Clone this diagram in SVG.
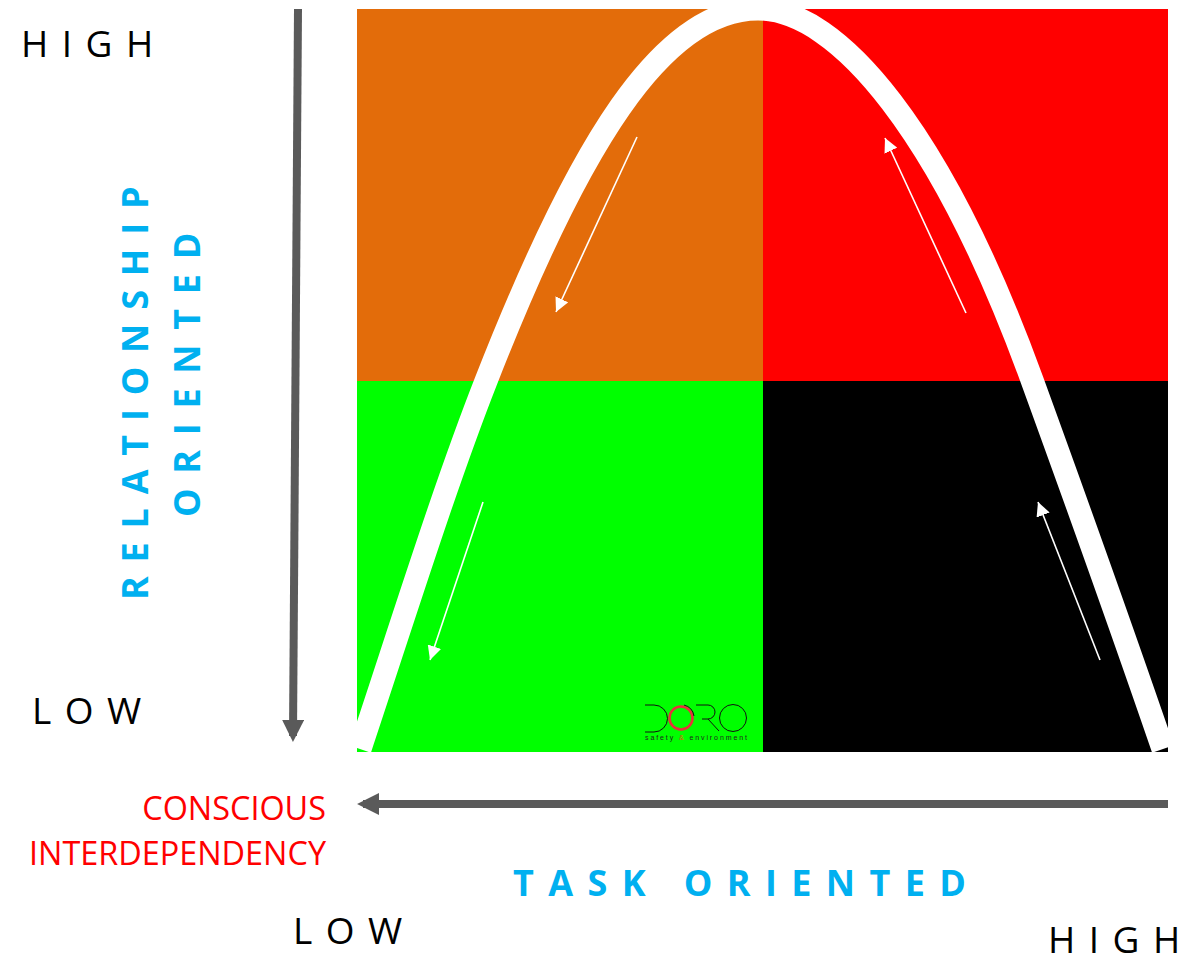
<svg xmlns="http://www.w3.org/2000/svg" width="1190" height="965" viewBox="0 0 1190 965">
<defs>
<style>
.k{font-family:"Open Sans","Liberation Sans",sans-serif;font-size:37px;fill:#000;letter-spacing:13.5px}
.b{font-family:"Open Sans","Liberation Sans",sans-serif;font-size:36px;font-weight:700;fill:#00b0f0}
.r{font-family:"Open Sans","Liberation Sans",sans-serif;font-size:32.4px;fill:#f00}
.w{fill:none;stroke:#fff;stroke-width:1.6}
.g{fill:none;stroke:#5a5a5a;stroke-width:8}
.l{fill:none;stroke:#111;stroke-width:1}
</style>
<marker id="wa" viewBox="0 0 10 10" refX="10" refY="5" markerWidth="14" markerHeight="14" markerUnits="userSpaceOnUse" orient="auto"><path d="M0 0L10 5L0 10Z" fill="#fff"/></marker>
<marker id="ga" viewBox="0 0 10 10" refX="7.3" refY="5" markerWidth="22" markerHeight="22" markerUnits="userSpaceOnUse" orient="auto"><path d="M0 0L10 5L0 10Z" fill="#5a5a5a"/></marker>
</defs>
<rect width="1190" height="965" fill="#fff"/>
<g id="quadrants">
<rect id="q-orange" x="357" y="9" width="406" height="372" fill="#e36c0a"/>
<rect id="q-red" x="763" y="9" width="405" height="372" fill="#f00"/>
<rect id="q-green" x="357" y="381" width="406" height="371" fill="#0f0"/>
<rect id="q-black" x="763" y="381" width="405" height="371" fill="#000"/>
</g>
<g id="curve"><path d="M360 749C402 623 444 488 486 381C578 146 662 9 758 9C838 9 942 132.500 1032 380C1076 501 1119 621 1163 749" fill="none" stroke="#fff" stroke-width="23"/></g>
<g id="connectors">
<path class="w" d="M637 137L556 312" marker-end="url(#wa)"/>
<path class="w" d="M483 502L430 660" marker-end="url(#wa)"/>
<path class="w" d="M966 313L885 138" marker-end="url(#wa)"/>
<path class="w" d="M1100 660L1038 502" marker-end="url(#wa)"/>
<path class="g" d="M298 9L293 736" marker-end="url(#ga)"/>
<path class="g" d="M1168 804L363 804" marker-end="url(#ga)"/>
</g>
<g id="logo">
<path class="l" d="M645 705H654A13.5 13.5 0 0 1 654 732H645"/>
<circle cx="681" cy="718" r="11.5" fill="none" stroke="#e8323a" stroke-width="2.6"/>
<path class="l" d="M684 705A13.5 13.5 0 0 1 694 716"/>
<path class="l" d="M696 705H708A7 7 0 0 1 708 719H702M708 719L719 731"/>
<circle cx="733" cy="718" r="13.5" class="l"/>
<text x="645" y="740" font-family="Liberation Sans,sans-serif" font-size="7" textLength="102" fill="#222">safety <tspan fill="#e8501a">&amp;</tspan> environment</text>
</g>
<g id="labels">
<text class="k" x="21" y="57">HIGH</text>
<text class="k" x="32" y="724">LOW</text>
<text class="k" x="293" y="944">LOW</text>
<text class="k" x="1048" y="953">HIG<tspan letter-spacing="0">H</tspan></text>
<text class="b" letter-spacing="13.8" transform="translate(148 600) rotate(-90)">RELATIONSHIP</text>
<text class="b" letter-spacing="14.7" transform="translate(200 517) rotate(-90)">ORIENTED</text>
<text class="b" letter-spacing="14.4" x="513" y="896">TASK ORIENTED</text>
<text class="r" x="326" y="820" text-anchor="end">CONSCIOUS</text>
<text class="r" x="326" y="865" text-anchor="end">INTERDEPENDENCY</text>
</g>
</svg>
